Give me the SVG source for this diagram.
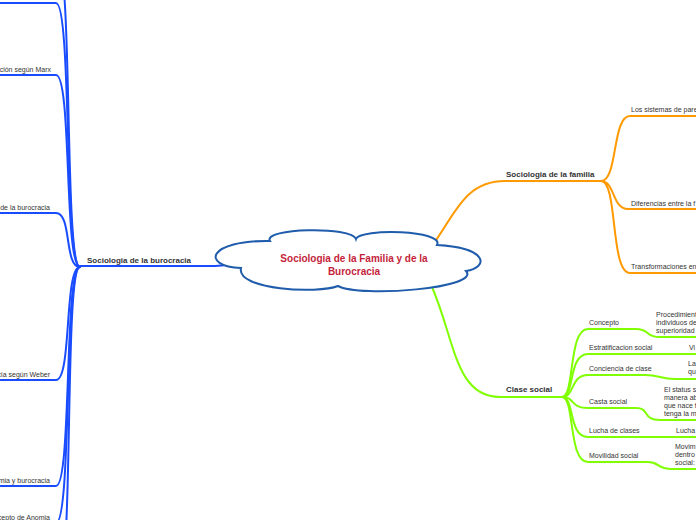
<svg xmlns="http://www.w3.org/2000/svg" width="696" height="520" viewBox="0 0 696 520">
<style>
text{font-family:"Liberation Sans",Arial,sans-serif;fill:#333}
.b{font-weight:bold;font-size:8px}
.l{font-size:7px}
.e{text-anchor:end}
.t{font-weight:bold;font-size:10px;fill:#c41e3a;text-anchor:middle}
.blue{fill:none;stroke:#1a4cff;stroke-width:2;stroke-linecap:round}
.or{fill:none;stroke:#ff9900;stroke-width:2;stroke-linecap:round}
.gr{fill:none;stroke:#80ff00;stroke-width:2;stroke-linecap:round}
</style>
<rect width="696" height="520" fill="#fff"/>
<g id="connectors">
<path class="blue" stroke-width="2.5" d="M80,266 L215,266 C225,266 230,264 241,263"/>
<path class="blue" d="M80,267 C64,267 73,-40 57,-40 L0,-40"/>
<path class="blue" d="M80,267 C64,267 72,3 56,3 L0,3"/>
<path class="blue" d="M80,267 C64,267 72,75 56,75 L0,75"/>
<path class="blue" d="M80,267 C64,267 72,213 56,213 L0,213"/>
<path class="blue" d="M80,267 C64,267 72,380 56,380 L0,380"/>
<path class="blue" d="M80,267 C64,267 72,486 56,486 L0,486"/>
<path class="blue" d="M80,267 C64,267 72,523 56,523 L0,523"/>
<path class="blue" d="M80,267 C64,267 74,580 58,580 L0,580"/>
<path class="or" stroke-width="2.5" d="M434,243 C455,214 465,181 505,181 L601,181"/>
<path class="or" d="M601,181 C618,181 612,116 630,116 L696,116"/>
<path class="or" d="M601,181 C615,181 612,209 628,209 L696,209"/>
<path class="or" d="M601,181 C618,181 610,273 630,273 L696,273"/>
<path class="gr" stroke-width="2.5" d="M432,287 C455,340 455,397 500,397 L562,397"/>
<path class="gr" d="M562,397 C575,397 568,329 588,329 L636,329 C650,329 645,337 660,337 L696,337"/>
<path class="gr" d="M562,397 C575,397 568,354 588,354 L696,354"/>
<path class="gr" d="M562,397 C575,397 570,375 588,375 L645,375 C660,375 660,379 675,379 L696,379"/>
<path class="gr" d="M562,397 C575,397 570,408 588,408 L636,408 C650,408 642,420 660,420 L696,420"/>
<path class="gr" d="M562,397 C575,397 568,437 588,437 L696,437"/>
<path class="gr" d="M562,397 C575,397 568,462 588,462 L648,462 C660,462 656,469 672,469 L696,469"/>
</g>
<g id="center">
<path d="M270,241 C262,228 352,226 356,239 C360,228 445,230 437,245 C490,248 488,268 466,271 C482,288 360,298 338,286 C318,294 236,290 241,268 C200,266 208,240 270,241 Z" fill="#fff" stroke="#1f5cab" stroke-width="2"/>
<text class="t" x="354" y="262">Sociologia de la Familia y de la</text>
<text class="t" x="354" y="275">Burocracia</text>
</g>
<g id="burocracia"><text class="b" x="87" y="263">Sociologia de la burocracia</text></g>
<g id="marx"><text class="l e" x="51" y="72">ción según Marx</text></g>
<g id="deburocracia"><text class="l e" x="50" y="210">de la burocracia</text></g>
<g id="weber"><text class="l e" x="50" y="377">cia según Weber</text></g>
<g id="anomiaburo"><text class="l e" x="50" y="483">mia y burocracia</text></g>
<g id="anomia"><text class="l e" x="50" y="520">cepto de Anomia</text></g>
<g id="familia"><text class="b" x="506" y="177">Sociologia de la familia</text></g>
<g id="sistemas"><text class="l" x="631" y="112">Los sistemas de pare</text></g>
<g id="diferencias"><text class="l" x="631" y="206">Diferencias entre la f</text></g>
<g id="transformaciones"><text class="l" x="631" y="269">Transformaciones en</text></g>
<g id="clase"><text class="b" x="506" y="392">Clase social</text></g>
<g id="concepto"><text class="l" x="589" y="325">Concepto</text></g>
<g id="concepto-leaf"><text class="l" x="656" y="317">Procedimient</text><text class="l" x="656" y="325">individuos de</text><text class="l" x="656" y="333">superioridad</text></g>
<g id="estratificacion"><text class="l" x="589" y="350">Estratificacion social</text></g>
<g id="estratificacion-leaf"><text class="l" x="689" y="350">Vi</text></g>
<g id="conciencia"><text class="l" x="589" y="371">Conciencia de clase</text></g>
<g id="conciencia-leaf"><text class="l" x="688" y="366">La</text><text class="l" x="688" y="374">qu</text></g>
<g id="casta"><text class="l" x="589" y="404">Casta social</text></g>
<g id="casta-leaf"><text class="l" x="664" y="392">El status s</text><text class="l" x="664" y="400">manera ab</text><text class="l" x="664" y="408">que nace f</text><text class="l" x="664" y="416">tenga la m</text></g>
<g id="lucha"><text class="l" x="589" y="433">Lucha de clases</text></g>
<g id="lucha-leaf"><text class="l" x="676" y="433">Lucha</text></g>
<g id="movilidad"><text class="l" x="589" y="458">Movilidad social</text></g>
<g id="movilidad-leaf"><text class="l" x="675" y="449">Movim</text><text class="l" x="675" y="457">dentro</text><text class="l" x="675" y="465">social:</text></g>
</svg>
